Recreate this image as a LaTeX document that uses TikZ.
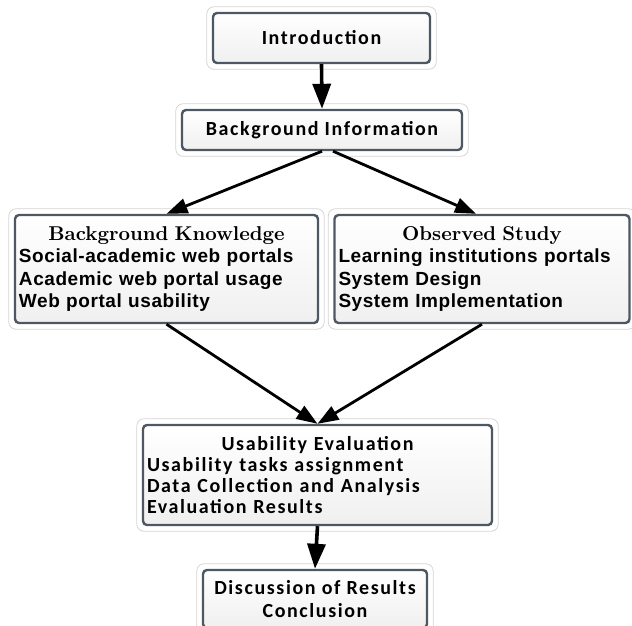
\documentclass[tikz,border=0pt]{standalone}
\usepackage{fontspec}
\newfontfamily\listfont[LetterSpace=3]{Liberation Sans}
\newfontfamily\headfont[LetterSpace=8]{Carlito}
\newfontfamily\ttlfont{lmroman10-bold.otf}
\usepackage{tikz}
\usetikzlibrary{shapes, arrows, positioning, fit, calc, arrows.meta}

\definecolor{boxedge}{RGB}{78,88,98}
\definecolor{haloline}{RGB}{212,212,212}

\newcommand{\boxtitle}[1]{{\centering\ttlfont\fontsize{20}{23}\selectfont #1\par}}

\tikzset{
  box/.style={draw=boxedge, line width=2.4pt, rounded corners=4pt,
    top color=white, bottom color=gray!12, inner xsep=4pt, inner ysep=3pt},
  halo/.style={draw=haloline, line width=0.8pt, rounded corners=7pt},
  flow/.style={-{Triangle[width=18pt,length=25pt]}, line width=3.6pt},
  link/.style={-{Triangle[width=15pt,length=21pt]}, line width=2.8pt},
  headtxt/.style={font=\headfont\bfseries\fontsize{20}{23}\selectfont},
  listtxt/.style={font=\listfont\bfseries\fontsize{19}{22.5}\selectfont, align=left},
}

\begin{document}
\begin{tikzpicture}[x=1pt, y=1pt]
  \useasboundingbox (0,0) rectangle (632,-625);

  % boxes
  \node[box, headtxt, minimum width=217pt, minimum height=50pt] (intro) at (321.5,-38) {Introduction};
  \node[box, headtxt, minimum width=280pt, minimum height=40pt] (bginfo) at (322,-130) {Background Information};
  \node[box, listtxt, text width=295pt, minimum height=108pt] (bgknow) at (166.5,-269)
    {\boxtitle{Background Knowledge}
     Social-academic web portals\\ Academic web portal usage\\ Web portal usability};
  \node[box, listtxt, text width=287pt, minimum height=108pt] (obstudy) at (482,-269)
    {\boxtitle{Observed Study}
     Learning institutions portals\\ System Design\\ System Implementation};
  \node[box, headtxt, align=left, text width=341pt, minimum height=100pt,
    font=\headfont\bfseries\fontsize{20}{21}\selectfont] (useval) at (317.5,-475)
    {{\centering Usability Evaluation\par}
     Usability tasks assignment\\ Data Collection and Analysis\\ Evaluation Results};
  \node[box, headtxt, align=center, minimum width=224pt, minimum height=58pt] (discuss) at (315,-599)
    {Discussion of Results\\ Conclusion};

  % outer light rims
  \foreach \n in {intro, bginfo, bgknow, obstudy, useval, discuss}
    \draw[halo] ([shift={(-5,5)}]\n.north west) rectangle ([shift={(5,-5)}]\n.south east);

  % connectors
  \draw[flow] (intro.south) -- (bginfo.north);
  \draw[link] (bginfo.south) -- (bgknow.north);
  \draw[link] ([xshift=11pt]bginfo.south) -- ([xshift=-6pt]obstudy.north);
  \draw[link] (bgknow.south) -- (useval.north);
  \draw[link] (obstudy.south) -- (useval.north);
  \draw[flow] (useval.south) -- (discuss.north);
\end{tikzpicture}
\end{document}
